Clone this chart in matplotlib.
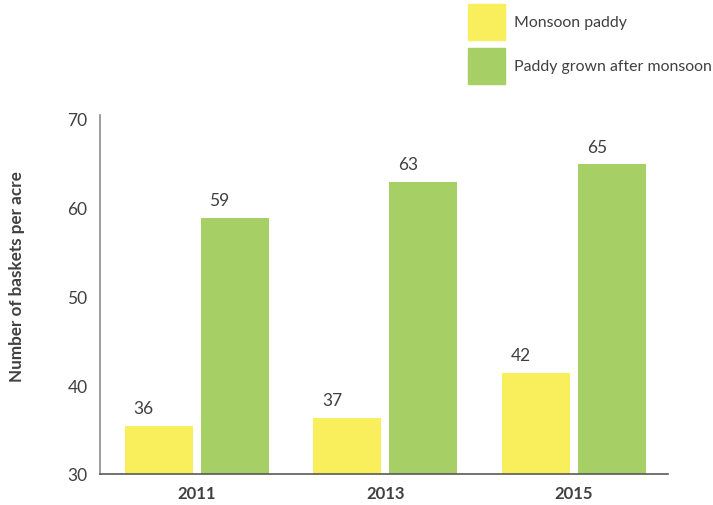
import matplotlib
matplotlib.use("Agg")
import matplotlib.pyplot as plt
import numpy as np
from matplotlib.patches import Rectangle

years = ["2011", "2013", "2015"]
monsoon = [35.4, 36.3, 41.4]
after = [58.9, 62.9, 64.9]
monsoon_labels = ["36", "37", "42"]
after_labels = ["59", "63", "65"]
series_names = ["Monsoon paddy", "Paddy grown after monsoon"]
yticks = [30, 40, 50, 60, 70]

YELLOW = "#F9EE5B"
GREEN = "#A6D066"
TXT = "#404040"

plt.rcParams['font.family'] = ['Lato', 'DejaVu Sans']

fig = plt.figure(figsize=(7.13, 5.06), dpi=100)
ax = fig.add_axes([100/713, 31/506, 568/713, 355/506])

x = np.arange(len(years))
w = 0.36
off = 0.2015
b1 = ax.bar(x - off, np.array(monsoon) - 30, w, bottom=30, color=YELLOW)
b2 = ax.bar(x + off, np.array(after) - 30, w, bottom=30, color=GREEN)

for bars, labs in ((b1, monsoon_labels), (b2, after_labels)):
    for r, lab in zip(bars, labs):
        ax.annotate(lab, (r.get_x() + r.get_width()/2, r.get_y() + r.get_height()),
                    xytext=(-11, 7), textcoords="offset points",
                    ha="center", va="bottom", fontsize=12.5, color=TXT)

ax.set_ylim(30, 70)
ax.set_xlim(-0.512, 2.498)
ax.set_yticks(yticks)
ax.set_yticklabels([str(v) for v in yticks], fontsize=12.5, color=TXT)
ax.set_xticks(x)
ax.set_xticklabels(years, fontsize=12, fontweight="bold", color=TXT)
ax.tick_params(length=0, pad=8)
ax.tick_params(axis="y", pad=9)
for s in ("top", "right"):
    ax.spines[s].set_visible(False)
ax.spines["left"].set_color("#8c8c8c")
ax.spines["left"].set_bounds(30, 70.5)
ax.spines["bottom"].set_color("#595959")
ax.spines["left"].set_linewidth(1.2)
ax.spines["bottom"].set_linewidth(1.2)

fig.text(17/713, 1 - 277/506, "Number of baskets per acre", rotation=90,
         ha="center", va="center", fontsize=12.3, fontweight="bold", color=TXT)

# legend
for i, (name, col) in enumerate(zip(series_names, [YELLOW, GREEN])):
    top = 5 + i * 44
    fig.patches.append(Rectangle((468/713, 1 - (top + 36)/506), 37/713, 36/506,
                                 transform=fig.transFigure, color=col))
    fig.text(514/713, 1 - (top + 18)/506, name, ha="left", va="center",
             fontsize=11.4, color=TXT)

fig.savefig("out.png", dpi=100)
